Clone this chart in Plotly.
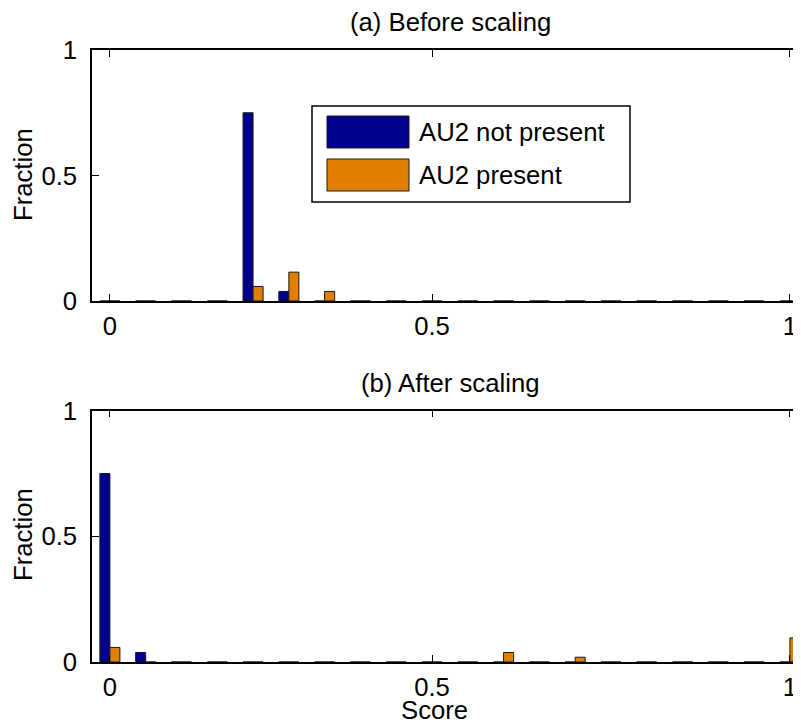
import plotly.graph_objects as go

# ---- data (20 histogram bins, index 1..20 => score 0..1) ----
bins = list(range(1, 21))
before_not_present = [0, 0, 0, 0, 0.75, 0.038, 0, 0, 0, 0, 0, 0, 0, 0, 0, 0, 0, 0, 0, 0]
before_present     = [0, 0, 0, 0, 0.058, 0.115, 0.038, 0, 0, 0, 0, 0, 0, 0, 0, 0, 0, 0, 0, 0]
after_not_present  = [0.75, 0.038, 0, 0, 0, 0, 0, 0, 0, 0, 0, 0, 0, 0, 0, 0, 0, 0, 0, 0]
after_present      = [0.058, 0, 0, 0, 0, 0, 0, 0, 0, 0, 0, 0.038, 0, 0.019, 0, 0, 0, 0, 0, 0.096]
x_tickvals = [1, 10, 20]
x_ticktext = ["0", "0.5", "1"]
y_tickvals = [0, 0.5, 1]
y_ticktext = ["0", "0.5", "1"]
series_names = ["AU2 not present", "AU2 present"]
titles = ["(a) Before scaling", "(b) After scaling"]

BLUE = "#00008F"
ORANGE = "#E07F00"
EDGE = "#1a1a1a"
FONT = "Liberation Sans, Arial, sans-serif"
FS = 25.7

# page has an 8px body margin; layout coordinates below are page pixels
OFF = 8
W, H = 801 - OFF, 725 - OFF
PL, PT, PB = 92, 50, 662          # plot area edges in page pixels
L, R, T, B = PL - OFF, 0, PT - OFF, H - (PB - OFF)
PW, PH = W - L - R, H - T - B

def px(xp):
    return (xp - OFF - L) / PW

def py(yp):
    return (H - B - (yp - OFF)) / PH

fig = go.Figure()
for vals, col, xa, ya in [
    (before_not_present, BLUE, "x", "y"),
    (before_present, ORANGE, "x", "y"),
    (after_not_present, BLUE, "x2", "y2"),
    (after_present, ORANGE, "x2", "y2"),
]:
    fig.add_trace(go.Bar(x=bins, y=vals, marker=dict(color=col, line=dict(color=EDGE, width=1)),
                         xaxis=xa, yaxis=ya, showlegend=False, cliponaxis=False))

top_dom = [py(301), 1]
bot_dom = [0, py(410.7)]

axis_common = dict(showline=True, linecolor="black", linewidth=1.5, ticks="inside", ticklen=7,
                   tickwidth=1, tickcolor="black", showgrid=False, zeroline=False, automargin=False,
                   tickfont=dict(family=FONT, size=FS, color="black"))
xcommon = dict(axis_common, range=[0.5, 20.31], tickmode="array", tickvals=x_tickvals,
               ticktext=x_ticktext, mirror="ticks", ticklabelstandoff=1)
ycommon = dict(axis_common, range=[0, 1], tickmode="array", tickvals=y_tickvals,
               ticktext=y_ticktext, ticklabelstandoff=8)

fig.update_layout(
    width=W, height=H, margin=dict(l=L, r=R, t=T, b=B, pad=0, autoexpand=False),
    paper_bgcolor="white", plot_bgcolor="white",
    barmode="group", bargap=0.44, bargroupgap=0,
    xaxis=dict(xcommon, domain=[0, 1], anchor="y"),
    yaxis=dict(ycommon, domain=top_dom, anchor="x"),
    xaxis2=dict(xcommon, domain=[0, 1], anchor="y2"),
    yaxis2=dict(ycommon, domain=bot_dom, anchor="x2"),
    font=dict(family=FONT, size=FS, color="black"),
)

ann = []
ann.append(dict(text=titles[0], x=px(450), y=py(22), xref="paper", yref="paper",
                showarrow=False, xanchor="center", yanchor="middle"))
ann.append(dict(text=titles[1], x=px(450), y=py(383), xref="paper", yref="paper",
                showarrow=False, xanchor="center", yanchor="middle"))
ann.append(dict(text="Fraction", x=px(23), y=py(175), xref="paper", yref="paper", textangle=-90,
                showarrow=False, xanchor="center", yanchor="middle"))
ann.append(dict(text="Fraction", x=px(23), y=py(535), xref="paper", yref="paper", textangle=-90,
                showarrow=False, xanchor="center", yanchor="middle"))
ann.append(dict(text="Score", x=px(434), y=py(710), xref="paper", yref="paper",
                showarrow=False, xanchor="center", yanchor="middle"))

# legend drawn manually (large MATLAB-style swatches)
shapes = []
shapes.append(dict(type="rect", xref="paper", yref="paper", x0=px(312), x1=px(630),
                   y0=py(202), y1=py(106), line=dict(color="black", width=1.5), fillcolor="white"))
for i, (name, col) in enumerate(zip(series_names, [BLUE, ORANGE])):
    y0p, y1p = (116, 148) if i == 0 else (159, 191)
    shapes.append(dict(type="rect", xref="paper", yref="paper", x0=px(327), x1=px(409),
                       y0=py(y1p), y1=py(y0p), line=dict(color=EDGE, width=1), fillcolor=col))
    ann.append(dict(text=name, x=px(417), y=py((y0p + y1p) / 2), xref="paper", yref="paper",
                    showarrow=False, xanchor="left", yanchor="middle"))

fig.update_layout(annotations=ann, shapes=shapes)
fig.write_html("out.html")
